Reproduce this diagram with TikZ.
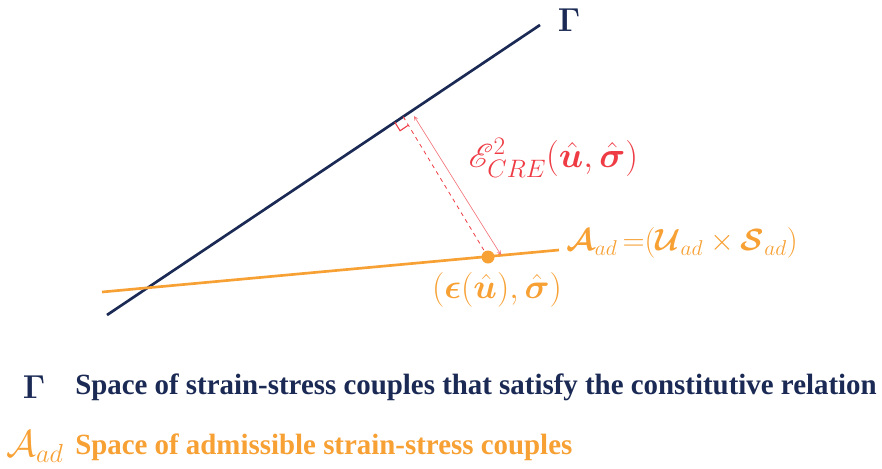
\RequirePackage{fix-cm}
\documentclass[tikz,border=0pt]{standalone}
\usepackage{amsmath, amssymb}
\usepackage{mathrsfs}
\usepackage{bm}
\usepackage{xcolor}
\usepackage{fontspec}
\usetikzlibrary{calc}
\newfontfamily\legendfont[FakeStretch=0.985]{Liberation Serif}
\definecolor{navy}{HTML}{1B2A55}
\definecolor{amber}{HTML}{F7A033}
\definecolor{crimson}{HTML}{EE3B44}

\begin{document}
\begin{tikzpicture}
    [x=0.75pt, y=-0.75pt, every node/.style={font=\Huge}, >=stealth,
     gammaline/.style={navy, line width=2pt},
     admline/.style={amber, line width=2pt},
     bigmath/.style={font=\fontsize{26}{31}\selectfont},
     legend/.style={font=\legendfont\bfseries\fontsize{22}{26}\selectfont, anchor=west, inner sep=0pt}]
    \useasboundingbox (0,0) rectangle (882,468);
    \coordinate (g1) at (107,315);
    \coordinate (g2) at (540,25);
    \coordinate (o1) at (102,292);
    \coordinate (o2) at (559,250);
    \coordinate (P) at (488,257);
    \coordinate (foot) at ($(g1)!0.684!(g2)$);
    \coordinate (a1) at (414,116);
    \coordinate (a2) at (501,255);
    \draw[gammaline] (g1) -- (g2);
    \draw[admline] (o1) -- (o2);
    \draw[crimson, dashed, line width=0.6pt] (foot) -- (P);
    \coordinate (m1) at ($(foot)!7.5pt!(g1)$);
    \coordinate (m2) at ($(foot)!7.5pt!(P)$);
    \draw[crimson, line width=0.8pt] (m1) -- ($(m1)+(m2)-(foot)$) -- (m2);
    \draw[<->, crimson!70, line width=0.5pt] (a1) -- (a2);
    \node[circle, fill=amber, inner sep=0pt, minimum size=9.75pt] (pt) at (P) {};
    \node[crimson, font=\fontsize{27}{32}\selectfont, anchor=west] (cre) at (464,158) {$\mathscr{E}^2_{CRE}(\hat{\bm u},\hat{\bm\sigma})$};
    \node[amber, font=\fontsize{23}{28}\selectfont, anchor=west] (aad) at (562,243) {$\bm{\mathcal{A}}_{ad}\,{=}(\bm{\mathcal{U}}_{ad}\times\bm{\mathcal{S}}_{ad})$};
    \node[amber, bigmath] (couple) at (497,290) {$(\bm\epsilon(\hat{\bm u}),\hat{\bm\sigma})$};
    \node[navy] (gamma) at (569,20) {$\bm\Gamma$};
    \node[navy] (gkey) at (34,387) {$\bm\Gamma$};
    \node[navy, legend] (gtext) at (75,387) {Space of strain-stress couples that satisfy the constitutive relation};
    \node[amber, font=\fontsize{28}{34}\selectfont] (akey) at (35,447) {$\mathcal{A}_{ad}$};
    \node[amber, legend] (atext) at (75,447) {Space of admissible strain-stress couples};
\end{tikzpicture}
\end{document}
